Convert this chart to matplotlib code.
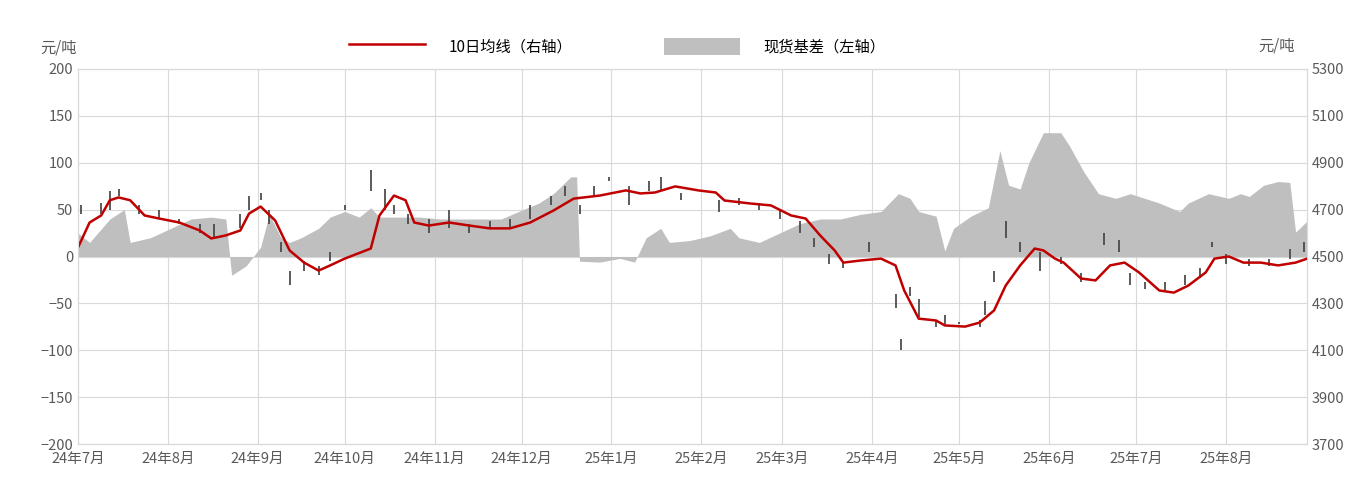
import matplotlib
matplotlib.use("Agg")
import matplotlib.pyplot as plt
import pandas as pd
import numpy as np

plt.rcParams['font.family'] = ['Noto Sans CJK SC', 'DejaVu Sans']

start = pd.Timestamp('2024-07-01')
basis_day = [0,4,11,16,18,25,32,39,46,51,53,58,63,66,70,73,77,83,87,92,97,101,104,111,118,125,132,139,146,152,159,164,170,172,173,180,187,192,196,201,204,211,218,225,228,235,242,249,256,263,270,277,283,287,290,296,299,302,308,314,318,321,325,328,333,339,342,347,352,358,363,368,373,380,383,390,397,401,404,409,414,418,420,421,424]
basis_val = [25,15,40,50,15,20,30,40,42,40,-20,-10,10,45,20,15,20,30,42,48,42,52,42,42,42,40,40,40,40,48,57,67,85,85,-5,-6,-2,-6,20,30,15,17,22,30,20,15,25,35,40,40,45,48,67,62,48,43,6,30,43,52,113,76,72,100,132,132,118,90,67,62,67,62,57,48,57,67,62,67,64,76,80,79,26,29,38]

ma_day = [0,4,8,11,14,18,23,28,35,42,46,51,56,59,63,68,73,78,83,87,92,101,104,109,113,116,121,128,135,142,149,156,164,171,180,189,194,199,206,214,220,223,232,239,246,251,256,261,264,270,277,282,285,290,296,299,306,311,316,320,325,330,333,337,340,346,351,356,361,366,373,378,383,389,392,397,402,408,414,420,424]
ma_val = [4538,4645,4675,4740,4752,4740,4675,4662,4645,4611,4577,4590,4611,4683,4713,4654,4526,4474,4440,4462,4491,4534,4675,4760,4740,4645,4632,4645,4632,4620,4620,4645,4696,4747,4760,4782,4769,4773,4799,4782,4773,4739,4726,4718,4675,4662,4590,4526,4474,4483,4491,4462,4355,4235,4227,4206,4201,4218,4270,4376,4462,4534,4526,4491,4474,4406,4398,4462,4474,4432,4355,4346,4376,4432,4491,4500,4474,4474,4462,4474,4491]

candle_day = [1,8,11,14,21,28,35,42,47,56,59,63,66,70,73,78,83,87,92,101,106,109,114,121,128,135,142,149,156,163,168,173,178,183,190,197,201,208,221,228,235,242,249,254,259,264,273,282,284,287,290,296,299,304,311,313,316,320,325,332,339,346,354,359,363,368,375,382,387,391,396,404,411,418,423]
candle_low = [4680,4680,4700,4760,4680,4660,4640,4600,4580,4620,4700,4740,4640,4520,4380,4440,4420,4480,4700,4780,4700,4680,4640,4600,4620,4600,4620,4620,4660,4720,4760,4680,4760,4820,4720,4780,4780,4740,4690,4720,4700,4660,4600,4540,4470,4450,4520,4280,4100,4330,4240,4200,4210,4210,4200,4250,4390,4580,4520,4440,4470,4390,4550,4520,4380,4360,4350,4380,4410,4540,4470,4460,4460,4490,4520]
candle_high = [4720,4730,4780,4790,4720,4700,4660,4640,4640,4680,4760,4770,4700,4560,4440,4480,4460,4520,4720,4870,4790,4720,4680,4660,4700,4640,4650,4660,4720,4760,4800,4720,4800,4840,4800,4820,4840,4770,4740,4750,4730,4700,4650,4580,4510,4480,4560,4340,4150,4370,4320,4230,4250,4220,4230,4310,4440,4650,4560,4520,4500,4430,4600,4570,4430,4390,4390,4420,4450,4560,4510,4490,4490,4530,4560]

month_labels = ['24年7月','24年8月','24年9月','24年10月','24年11月','24年12月','25年1月','25年2月','25年3月','25年4月','25年5月','25年6月','25年7月','25年8月']

bd = start + pd.to_timedelta(basis_day, unit='D')
md = start + pd.to_timedelta(ma_day, unit='D')
cd = start + pd.to_timedelta(candle_day, unit='D')
months = pd.date_range('2024-07-01', periods=len(month_labels), freq='MS')

fig = plt.figure(figsize=(13.56, 4.79), dpi=100)
ax = fig.add_axes([0.0575, 0.073, 0.9065, 0.783])
ax2 = ax.twinx()
ax.set_zorder(1); ax.patch.set_visible(False)
ax2.set_zorder(2)

ax.fill_between(bd, 0, basis_val, color='#bfbfbf', lw=0, label='现货基差（左轴）')
ax.set_ylim(-200, 200)
ax.set_yticks(range(-200, 201, 50))
ax.set_xlim(start, start + pd.Timedelta(days=424))
ax.set_xticks(months)
ax.set_xticklabels(month_labels)
ax.grid(True, color='#d9d9d9', lw=0.8)
ax.set_axisbelow(True)

ax2.vlines(cd, candle_low, candle_high, color='#404040', lw=1.2)
ax2.plot(md, ma_val, color='#c00000', lw=1.8, label='10日均线（右轴）')
ax2.set_ylim(3700, 5300)
ax2.set_yticks(range(3700, 5301, 200))

for a in (ax, ax2):
    for s in a.spines.values():
        s.set_color('#d9d9d9')
    a.tick_params(length=0, labelsize=10.5, colors='#595959')
ax.tick_params(axis='x', pad=6)

h1, l1 = ax2.get_legend_handles_labels()
h2, l2 = ax.get_legend_handles_labels()
fig.legend(h1 + h2, l1 + l2, loc='center', bbox_to_anchor=(0.455, 0.903), ncol=2,
           frameon=False, fontsize=11, handlelength=5, handleheight=1.4,
           columnspacing=6, handletextpad=1.5)
fig.text(0.030, 0.900, '元/吨', fontsize=11, color='#595959', va='center')
fig.text(0.928, 0.905, '元/吨', fontsize=11, color='#595959', va='center')
fig.savefig('out.png', dpi=100)
